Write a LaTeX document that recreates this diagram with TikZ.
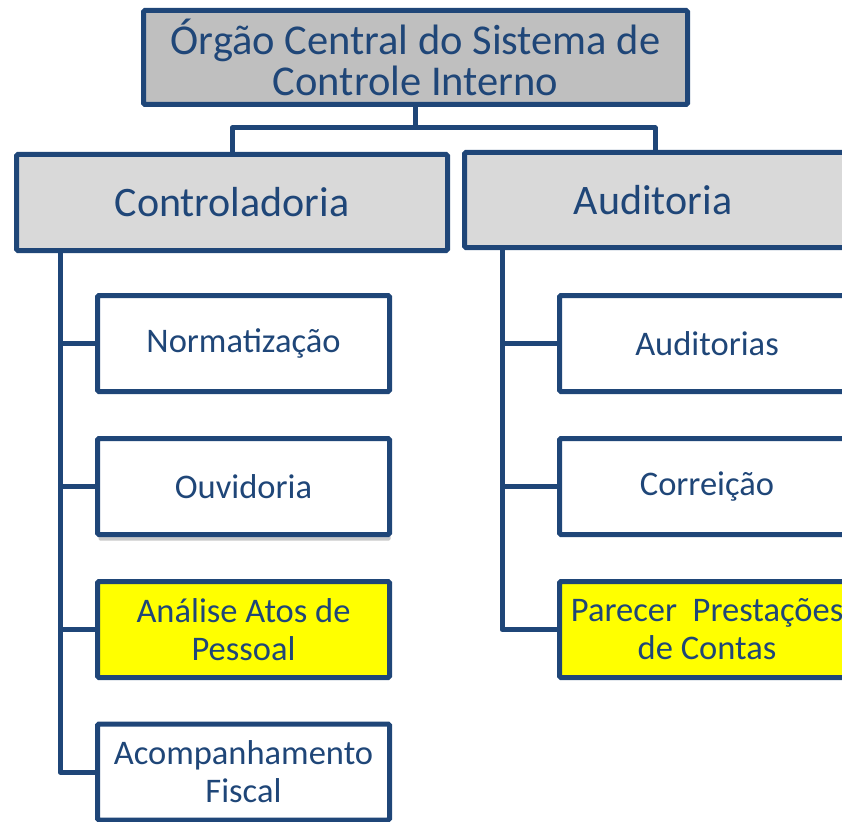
\documentclass[tikz,border=0pt]{standalone}
\usepackage{fontspec}
\setmainfont{Carlito}
\usetikzlibrary{positioning,shadows}
\definecolor{orgblue}{RGB}{31,70,120}
\definecolor{orggray}{RGB}{191,191,191}
\definecolor{orglight}{RGB}{217,217,217}
\definecolor{orgyellow}{RGB}{255,255,0}

\begin{document}
\begin{tikzpicture}[x=1pt, y=-1pt,
    box/.style={draw=orgblue, line width=5pt, rounded corners=1.5pt, text=orgblue, align=center, inner sep=0pt},
    topbox/.style={box, fill=orggray, minimum width=544pt, minimum height=94pt, font=\fontsize{42.5}{41}\selectfont},
    headbox/.style={box, fill=orglight, minimum height=96pt, font=\fontsize{42}{44}\selectfont},
    unitbox/.style={box, fill=white, minimum width=292pt, minimum height=96pt, font=\fontsize{34.5}{38}\selectfont},
    link/.style={draw=orgblue, line width=5pt, line join=round}]
    \useasboundingbox (0,0) rectangle (842,821);
    \clip (0,0) rectangle (842,821);

    % Orgao central
    \node[topbox] (central) at (415.5,57.5) {Órgão Central do Sistema de\\Controle Interno};

    % Secretarias
    \node[headbox, minimum width=431pt] (ctrl) at (232,202.5) {Controladoria};
    \node[headbox, minimum width=390pt, minimum height=95pt] (aud) at (659.5,200) {\hspace*{-13pt}Auditoria};

    % Unidades da Controladoria
    \node[unitbox] (norm) at (243.5,343.5) {Normatização};
    \node[unitbox, drop shadow={shadow xshift=1pt, shadow yshift=-6pt, fill=black!60, opacity=0.35}] (ouv) at (243.5,486.5) {Ouvidoria};
    \node[unitbox, fill=orgyellow] (pess) at (243.5,629.5) {Análise Atos de\\Pessoal};
    \node[unitbox] (fisc) at (243.5,772) {Acompanhamento\\Fiscal};

    % Unidades da Auditoria
    \node[unitbox, minimum width=295pt] (audit) at (707,343.5) {Auditorias};
    \node[unitbox, minimum width=295pt] (corr) at (707,486.5) {Correição};
    \node[unitbox, minimum width=295pt, fill=orgyellow] (parec) at (707,629.5) {Parecer\ \ Prestações\\de Contas};

    % Ligacoes
    \coordinate (split) at (415.5,128);
    \coordinate (ctrltrunk) at (60,253);
    \coordinate (audtrunk) at (502,250);
    \draw[link] (central.south) -- (split) -| (ctrl.north);
    \draw[link] (split) -| ([xshift=-4.5pt]aud.north);
    \foreach \unit in {norm,ouv,pess,fisc}
        \draw[link] (ctrltrunk) |- (\unit.west);
    \foreach \unit in {audit,corr,parec}
        \draw[link] (audtrunk) |- (\unit.west);
\end{tikzpicture}
\end{document}
